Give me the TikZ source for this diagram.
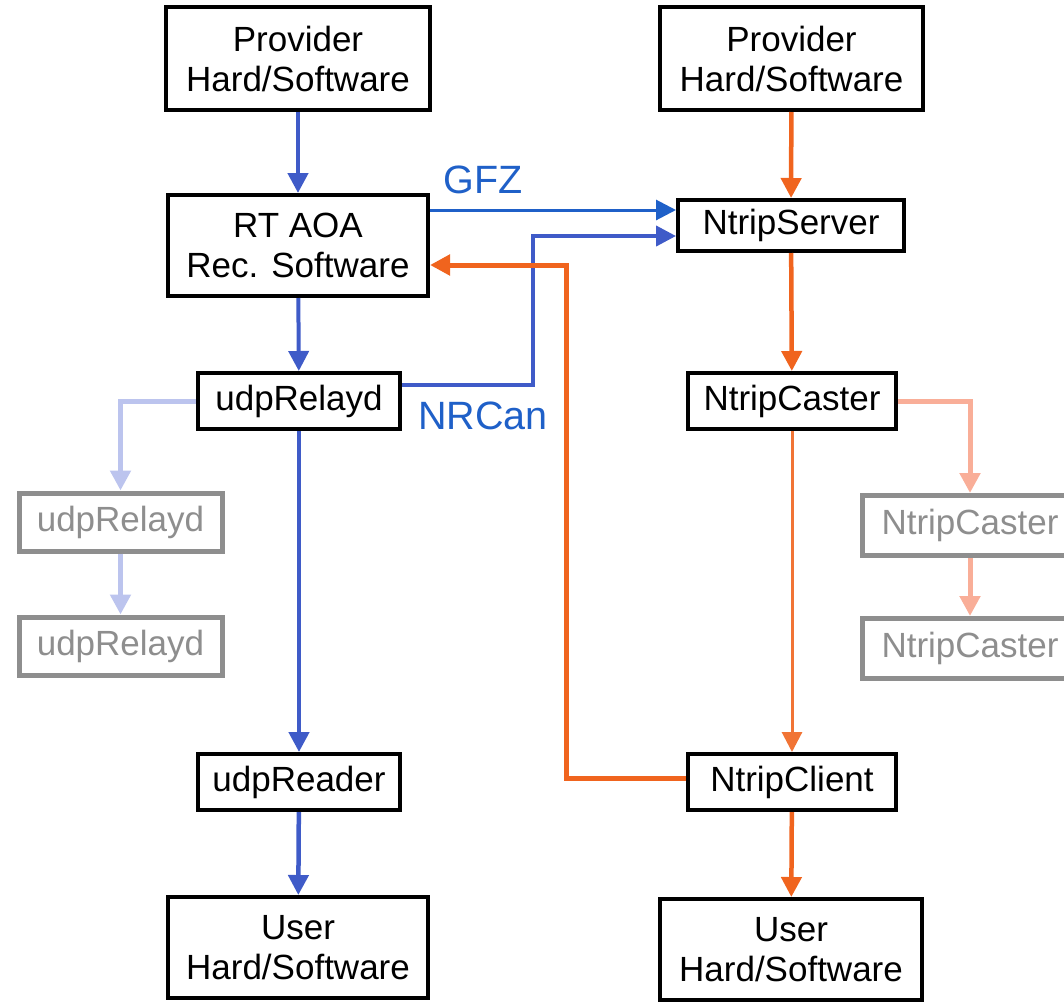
\documentclass[tikz,border=0pt]{standalone}
\usepackage{fontspec}
\setmainfont{Liberation Sans}
\usetikzlibrary{arrows.meta}
\definecolor{flowblue}{HTML}{3F5BC8}
\definecolor{linkblue}{HTML}{1F60C8}
\definecolor{flowred}{HTML}{F0641E}
\definecolor{paleblue}{HTML}{BCC4EE}
\definecolor{palered}{HTML}{F9AE98}
\definecolor{ghostgrey}{HTML}{8E8E8E}
\begin{document}
\begin{tikzpicture}[x=1pt,y=-1pt,
  box/.style 2 args={draw=black, line width=4pt, fill=white, inner sep=0pt,
    align=center, minimum width=#1, minimum height=#2,
    font=\fontsize{35}{40}\selectfont},
  ghost/.style 2 args={box={#1}{#2}, draw=ghostgrey, line width=5pt, text=ghostgrey},
  tip/.style={-{Triangle[length=20pt,width=20pt]}},
  lbl/.style={text=linkblue, inner sep=0pt, font=\fontsize{39.5}{44}\selectfont},
]
\useasboundingbox (0,0) rectangle (1064,1004);

% left column: UDP relay chain
\node[box={264}{103}] (pl) at (298,58.5) {Provider\\Hard/Software};
\node[box={260}{101}] (rt) at (298,245.5) {RT AOA\\Rec. Software};
\node[box={202}{56}] (ur) at (299,401) {udpRelayd};
\node[box={202}{56}] (ud) at (299,782) {udpReader};
\node[box={260}{101}] (ul) at (298,947.5) {User\\Hard/Software};
\node[ghost={203}{58}] (g1) at (120.5,522) {udpRelayd};
\node[ghost={203}{58}] (g2) at (120.5,646) {udpRelayd};

% right column: NTRIP chain
\node[box={263}{103}] (pr) at (791.5,58.5) {Provider\\Hard/Software};
\node[box={226}{51}] (ns) at (791,225.5) {NtripServer};
\node[box={208}{56}] (nc) at (792,401) {NtripCaster};
\node[box={208}{56}] (ncl) at (792,782) {NtripClient};
\node[box={262}{101}] (urt) at (791,949.5) {User\\Hard/Software};
\node[ghost={216}{60}] (gc1) at (970,525.5) {NtripCaster};
\node[ghost={216}{60}] (gc2) at (970,648.5) {NtripCaster};

% helper points for the cross links
\coordinate (yg) at (0,210);
\coordinate (yn) at (0,385);
\coordinate (ys) at (0,236);
\coordinate (yo) at (0,265);
\coordinate (yc) at (0,778);
\coordinate (xn) at (533,0);
\coordinate (xo) at (566,0);

% UDP flow
\draw[tip, flowblue, line width=4.5pt] (pl) -- (rt);
\draw[tip, flowblue, line width=4pt] (rt) -- (ur);
\draw[tip, flowblue, line width=4.5pt] (ur) -- (ud);
\draw[tip, flowblue, line width=4.5pt] (ud) -- (ul);
\draw[tip, paleblue, line width=5pt] (ur.west) -| (g1.north);
\draw[tip, paleblue, line width=5pt] (g1) -- (g2);

% links into the NtripServer
\draw[tip, linkblue, line width=3pt] (rt.east |- yg) -- (ns.west |- yg);
\draw[tip, flowblue, line width=4pt] (ur.east |- yn) -- (xn |- yn) -- (xn |- ys) -- (ns.west |- ys);
\node[lbl] (gfz) at (483,180) {GFZ};
\node[lbl] (nrc) at (483,416) {NRCan};

% NTRIP flow
\draw[tip, flowred, line width=4.5pt] (pr) -- (ns);
\draw[tip, flowred, line width=4.5pt] (ns) -- (nc);
\draw[tip, flowred!90!white, line width=3pt] (nc) -- (ncl);
\draw[tip, flowred, line width=4.5pt] (ncl) -- (urt);
\draw[tip, palered, line width=5pt] (nc.east) -| (gc1.north);
\draw[tip, palered, line width=5pt] (gc1) -- (gc2);

% corrections fed back to the receiver software
\draw[tip, flowred, line width=5pt] (ncl.west |- yc) -- (xo |- yc) -- (xo |- yo) -- (rt.east |- yo);
\end{tikzpicture}
\end{document}
